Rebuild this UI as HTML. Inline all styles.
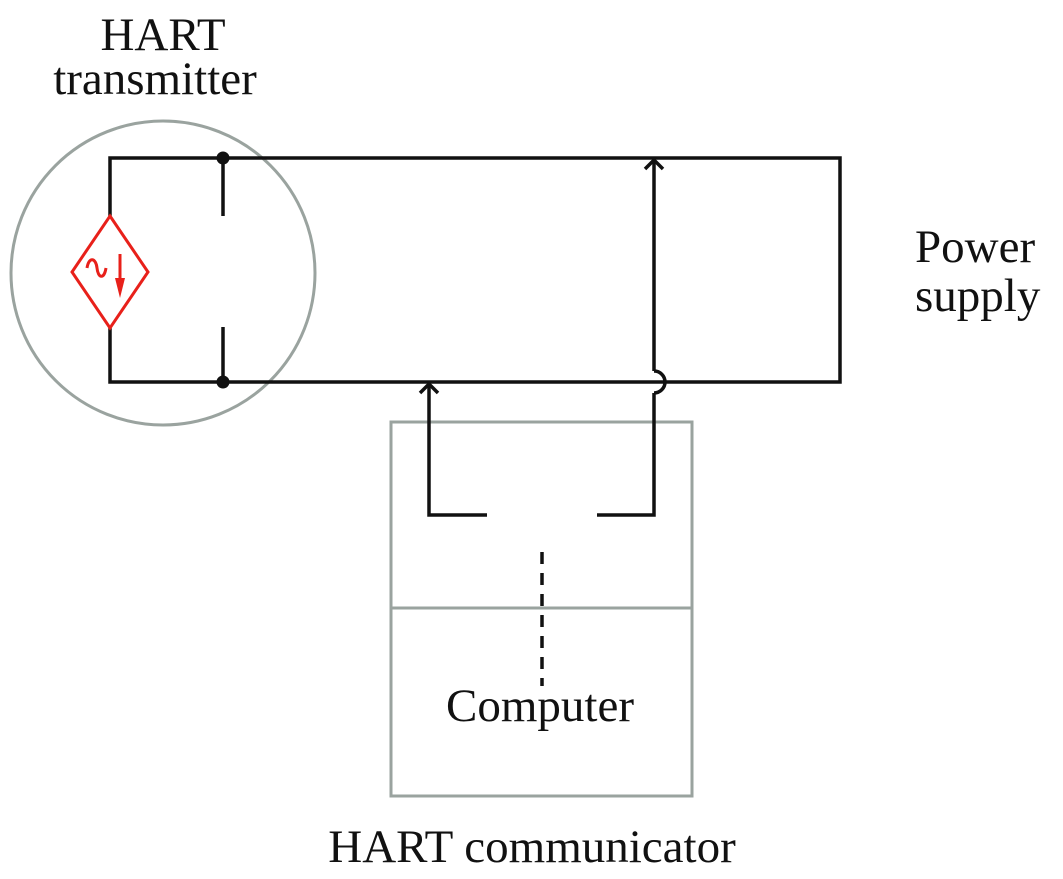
<!DOCTYPE html>
<html><head><style>body{margin:0;background:#fff}svg{display:block}</style></head><body>
<svg width="1063" height="879" viewBox="0 0 1063 879" xmlns="http://www.w3.org/2000/svg" font-family="Liberation Serif, serif" font-size="47" fill="#111">
<circle cx="163" cy="273" r="152" fill="none" stroke="#9aa39f" stroke-width="3"/>
<rect x="391" y="422" width="301" height="374" fill="none" stroke="#9aa39f" stroke-width="3"/>
<line x1="391" y1="608" x2="692" y2="608" stroke="#9aa39f" stroke-width="3"/>
<g stroke="#111" stroke-width="3.5" fill="none">
<polyline points="110,216 110,158 840,158 840,382 110,382 110,328"/>
<line x1="223" y1="158" x2="223" y2="216"/>
<line x1="223" y1="327" x2="223" y2="382"/>
<polyline points="487,515 429,515 429,384"/>
<polyline points="420,393 429,384 438,393"/>
<polyline points="597,515 654,515 654,393"/>
<path d="M654,393 A11,11 0 0 0 654,371"/>
<line x1="654" y1="371" x2="654" y2="160"/>
<polyline points="645,169 654,160 663,169"/>
<line x1="542" y1="552" x2="542" y2="686" stroke-dasharray="12,9"/>
</g>
<circle cx="223" cy="158" r="6.5" fill="#111"/>
<circle cx="223" cy="382" r="6.5" fill="#111"/>
<g stroke="#e8201a" stroke-width="3" fill="none">
<polygon points="110,216 148,272 110,328 72,272"/>
<path d="M87,268 C89,256 96,258 97,268 C98,278 104,280 106,268"/>
<line x1="120" y1="254" x2="120" y2="282"/>
</g>
<polygon points="115,278 125,278 120,298" fill="#e8201a"/>
<text x="163" y="50" text-anchor="middle">HART</text>
<text x="155" y="94" text-anchor="middle">transmitter</text>
<text x="915" y="262">Power</text>
<text x="915" y="311">supply</text>
<text x="540" y="721" text-anchor="middle">Computer</text>
<text x="532" y="862" text-anchor="middle">HART communicator</text>
</svg>
</body></html>
